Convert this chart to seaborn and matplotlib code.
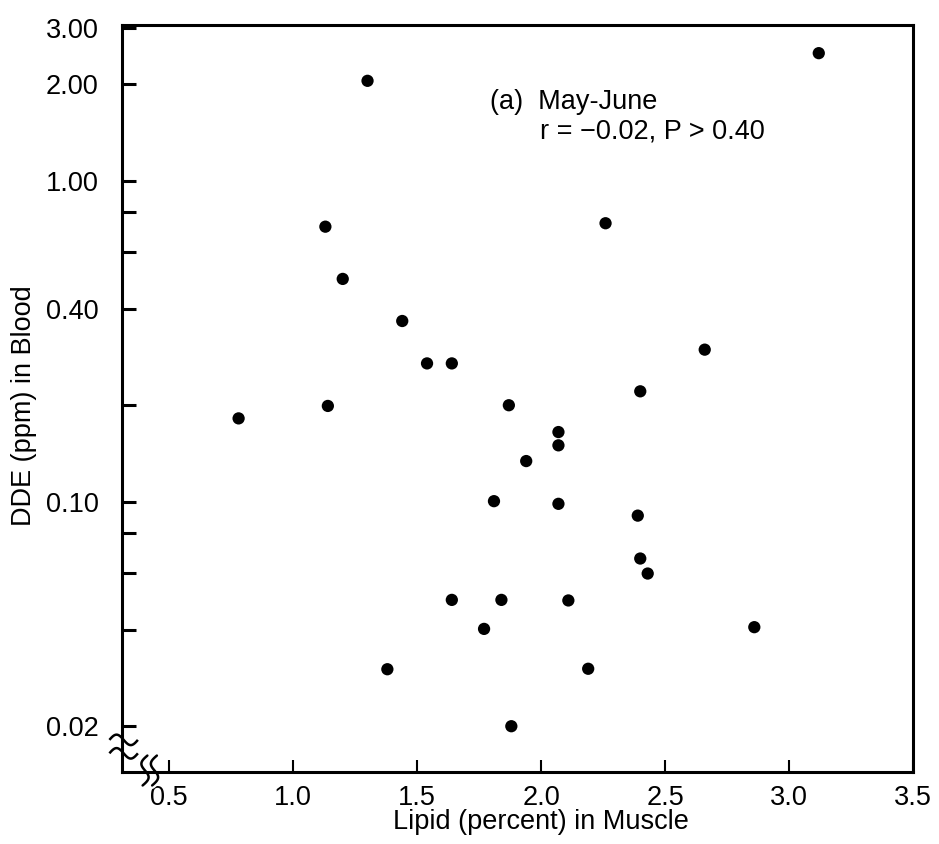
import numpy as np
import pandas as pd
import seaborn as sns
import matplotlib.pyplot as plt
import matplotlib.ticker as mticker

# values
lipid = [0.78, 1.13, 1.14, 1.20, 1.30, 1.38, 1.44, 1.54, 1.64, 1.64, 1.77,
         1.81, 1.84, 1.87, 1.88, 1.94, 2.07, 2.07, 2.07, 2.11, 2.19, 2.26,
         2.39, 2.40, 2.40, 2.43, 2.66, 2.86, 3.12]
dde = [0.182, 0.72, 0.199, 0.495, 2.05, 0.0301, 0.366, 0.270, 0.270, 0.0495,
       0.0402, 0.1005, 0.0495, 0.200, 0.0200, 0.134, 0.165, 0.150, 0.0986,
       0.0493, 0.0302, 0.738, 0.0906, 0.221, 0.0666, 0.0598, 0.298, 0.0407,
       2.50]

y_major = [3.0, 2.0, 1.0, 0.4, 0.1, 0.02]
y_major_labels = ["3.00", "2.00", "1.00", "0.40", "0.10", "0.02"]
y_minor = [0.8, 0.6, 0.2, 0.08, 0.06, 0.04]
x_ticks = [0.5, 1.0, 1.5, 2.0, 2.5, 3.0, 3.5]

df = pd.DataFrame({"lipid": lipid, "dde": dde})

sns.set_style("ticks")
plt.rcParams['font.family'] = ['Liberation Sans', 'DejaVu Sans']
plt.rcParams['font.size'] = 19.5
plt.rcParams['text.color'] = 'black'
plt.rcParams['axes.labelcolor'] = 'black'

fig = plt.figure(figsize=(9.39, 8.44), dpi=100)
ax = fig.add_axes([0.13, 0.0853, 0.8423, 0.8851])

sns.scatterplot(data=df, x="lipid", y="dde", color="black", s=78,
                edgecolor="none", ax=ax)

ax.set_yscale("log")
ax.set_xlim(0.31, 3.5)
ax.set_ylim(0.0144, 3.06)

ax.yaxis.set_major_locator(mticker.FixedLocator(y_major))
ax.yaxis.set_major_formatter(mticker.FixedFormatter(y_major_labels))
ax.yaxis.set_minor_locator(mticker.FixedLocator(y_minor))
ax.yaxis.set_minor_formatter(mticker.NullFormatter())
ax.set_xticks(x_ticks)
ax.set_xticklabels([f"{t:.1f}" for t in x_ticks])

ax.tick_params(axis="y", which="both", direction="in", length=10, width=2.2,
               labelsize=19.5, pad=17, right=False, color="black",
               labelcolor="black")
ax.tick_params(axis="x", which="both", direction="in", length=9, width=1.5,
               labelsize=19.5, pad=9, top=False, color="black",
               labelcolor="black")

for sp in ax.spines.values():
    sp.set_linewidth(2.2)
    sp.set_color("black")

ax.set_xlabel("Lipid (percent) in Muscle", fontsize=19.5)
ax.set_ylabel("DDE (ppm) in Blood", fontsize=19.5)
ax.xaxis.set_label_coords(0.53, -0.05)
ax.yaxis.set_label_coords(-0.108, 0.49)

ax.text(0.465, 0.888, "(a)  May-June", transform=ax.transAxes)
ax.text(0.528, 0.848, "r = \u22120.02, P > 0.40", transform=ax.transAxes)

# axis break symbols
t = np.linspace(0, 1, 40)
wave = 0.007 * np.sin(2 * np.pi * t)
# y-axis break
for col, lw in (("white", 6), ("black", 1.8)):
    for dy in (0.0, 0.018):
        xs = -0.016 + 0.036 * t
        ys = 0.025 + dy + wave
        ax.plot(xs, ys, color=col, lw=lw, transform=ax.transAxes,
                clip_on=False, solid_capstyle="butt")
# x-axis break
for col, lw in (("white", 5), ("black", 1.8)):
    for dx in (0.0, 0.012):
        xs = 0.026 + dx + 0.006 * np.sin(2 * np.pi * t) + 0.006 * t
        ys = -0.018 + 0.04 * t
        ax.plot(xs, ys, color=col, lw=lw, transform=ax.transAxes,
                clip_on=False)

plt.savefig("out.png", dpi=100)
